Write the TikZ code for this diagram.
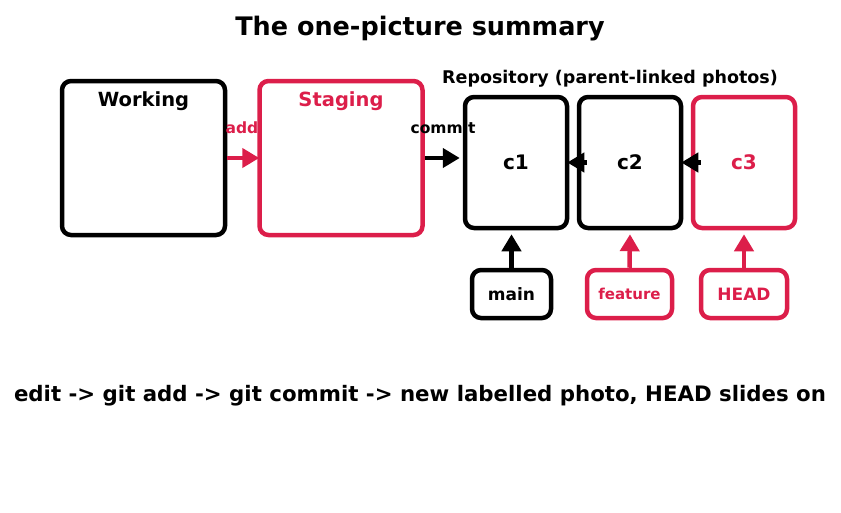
\documentclass[tikz,border=0pt]{standalone}
\usepackage{fontspec}
\setmainfont{DejaVu Sans}
\usetikzlibrary{arrows.meta,positioning}
\definecolor{hot}{HTML}{DC1E4A}
\tikzset{
  panel/.style={draw, line width=4.5pt, rounded corners=9pt, minimum width=163pt, minimum height=154pt},
  photo/.style={draw, line width=4.5pt, rounded corners=9pt, minimum width=102pt, minimum height=131pt, font=\bfseries\fontsize{20}{24}\selectfont},
  tag/.style={draw, line width=4.5pt, rounded corners=9pt, minimum height=48pt, font=\bfseries\fontsize{17}{20}\selectfont},
  link/.style={line width=4.5pt, -{Triangle[length=17pt,width=19pt]}},
}
\begin{document}
\begin{tikzpicture}[x=1pt,y=-1pt]
                \useasboundingbox (0,0) rectangle (841,512);
                \node[font=\bfseries\fontsize{25.5}{30}\selectfont] (title) at (420,29) {The one-picture summary};
                
                % Working area and staging
                \node[panel] (work) at (143.5,158) {};
                \node[panel, hot] (stage) at (341,158) {};
                \node[below=9pt of work.north, font=\bfseries\fontsize{19.5}{23}\selectfont] (worklbl) {Working};
                \node[below=9pt of stage.north, hot, font=\bfseries\fontsize{19.5}{23}\selectfont] (stagelbl) {Staging};
                
                % Commits
                \node[font=\bfseries\fontsize{17.5}{21}\selectfont] (repo) at (610,79) {Repository (parent-linked photos)};
                \node[photo] (c1) at (516,162.5) {c1};
                \node[photo] (c2) at (630,162.5) {c2};
                \node[photo, hot] (c3) at (744,162.5) {c3};
                
                % Branch labels
                \node[tag, minimum width=79pt] (main) at (511.5,294) {main};
                \node[tag, hot, minimum width=85pt, font=\bfseries\fontsize{15}{18}\selectfont] (feature) at (629.5,294) {feature};
                \node[tag, hot, minimum width=86pt] (head) at (744,294) {HEAD};
                
                % Arrows
                \draw[link, hot] (work.east) -- ([xshift=2pt]stage.west);
                \draw[link] (stage.east) -- ([xshift=-3pt]stage.east -| c1.west);
                \node[hot, font=\bfseries\fontsize{15.5}{18}\selectfont] (addlbl) at (242,128) {add};
                \node[font=\bfseries\fontsize{15.5}{18}\selectfont] (commitlbl) at (443,128) {commit};
                \draw[link] ([xshift=10pt]c2.west) -- ([xshift=-2pt]c1.east);
                \draw[link] ([xshift=10pt]c3.west) -- ([xshift=-2pt]c2.east);
                \draw[link] (main.north) -- ([yshift=-4pt]main.north |- c1.south);
                \draw[link, hot] (feature.north) -- ([yshift=-4pt]c2.south);
                \draw[link, hot] (head.north) -- ([yshift=-4pt]c3.south);
                
                \node[font=\bfseries\fontsize{21.3}{25}\selectfont] (summary) at (420,396) {edit -> git add -> git commit -> new labelled photo, HEAD slides on};
            \end{tikzpicture}
\end{document}
